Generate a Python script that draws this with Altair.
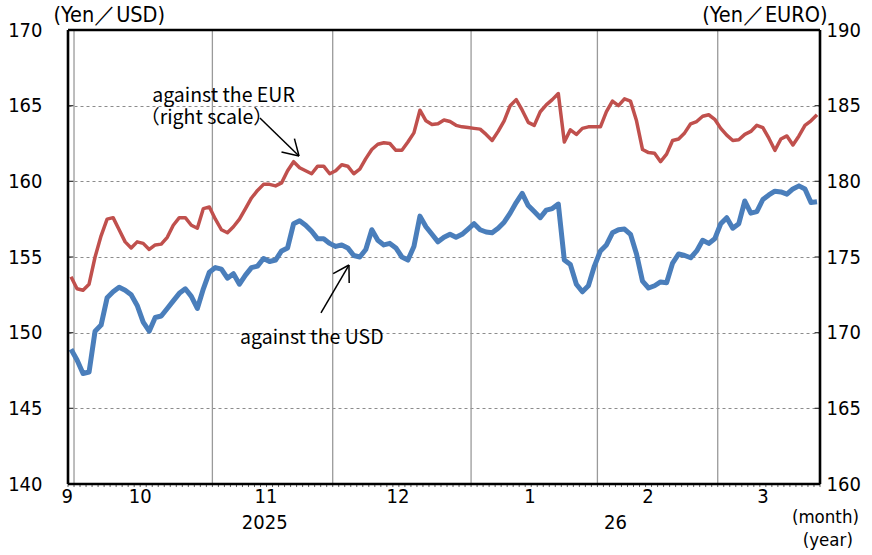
import math
import altair as alt
import pandas as pd

# Business-day series, 30 Sep 2025 to mid-March 2026
month_labels = ["9", "10", "11", "12", "1", "2", "3"]
month_days = [1, 23, 20, 23, 21, 20, 17]
month_pos = [-0.15, 12.0, 32.9, 54.85, 76.8, 96.4, 115.5]
year_labels = ["2025", "26"]
year_pos = [32.7, 91.0]

# Yen per US dollar (left scale)
usd = [
    148.9, 148.2, 147.3, 147.4, 150.1, 150.5, 152.3, 152.7, 153.0, 152.8,
    152.5, 151.8, 150.7, 150.1, 151.0, 151.1, 151.6, 152.1, 152.6, 152.9,
    152.4, 151.6, 152.9, 154.0, 154.3, 154.2, 153.6, 153.9, 153.2, 153.8,
    154.3, 154.4, 154.9, 154.7, 154.8, 155.4, 155.6, 157.2, 157.4, 157.1,
    156.7, 156.2, 156.2, 155.9, 155.7, 155.8, 155.6, 155.1, 155.0, 155.5,
    156.8, 156.1, 155.8, 155.9, 155.6, 155.0, 154.8, 155.7, 157.7, 157.0,
    156.5, 156.0, 156.3, 156.5, 156.3, 156.5, 156.85, 157.2, 156.8, 156.65,
    156.6, 156.9, 157.3, 157.9, 158.6, 159.2, 158.4, 158.0, 157.6, 158.1,
    158.2, 158.5, 154.8, 154.5, 153.2, 152.7, 153.1, 154.4, 155.4, 155.8,
    156.6, 156.8, 156.85, 156.5, 155.2, 153.4, 152.95, 153.1, 153.35, 153.3,
    154.6, 155.2, 155.1, 154.95, 155.4, 156.1, 155.9, 156.2, 157.2, 157.6,
    156.9, 157.2, 158.7, 157.9, 158.0, 158.8, 159.1, 159.35, 159.3, 159.15,
    159.5, 159.7, 159.5, 158.6, 158.65,
]

# Yen per euro (right scale)
eur = [
    173.7, 172.9, 172.8, 173.2, 175.0, 176.4, 177.5, 177.6, 176.8, 176.0,
    175.6, 176.0, 175.9, 175.5, 175.8, 175.85, 176.3, 177.1, 177.6, 177.6,
    177.1, 176.9, 178.2, 178.3, 177.5, 176.8, 176.6, 177.0, 177.5, 178.2,
    178.9, 179.4, 179.8, 179.8, 179.7, 179.9, 180.7, 181.3, 180.9, 180.7,
    180.5, 181.0, 181.0, 180.5, 180.7, 181.1, 181.0, 180.5, 180.8, 181.5,
    182.1, 182.45, 182.55, 182.5, 182.05, 182.05, 182.6, 183.2, 184.7, 184.0,
    183.75, 183.8, 184.05, 183.95, 183.7, 183.6, 183.55, 183.5, 183.45, 183.1,
    182.7, 183.3, 184.0, 185.0, 185.4, 184.7, 183.9, 183.7, 184.6, 185.05,
    185.4, 185.8, 182.6, 183.4, 183.1, 183.5, 183.6, 183.6, 183.6, 184.6,
    185.3, 185.0, 185.45, 185.3, 184.0, 182.1, 181.9, 181.85, 181.3, 181.8,
    182.7, 182.8, 183.2, 183.8, 183.95, 184.3, 184.4, 184.1, 183.5, 183.05,
    182.7, 182.75, 183.1, 183.3, 183.7, 183.55, 182.85, 182.05, 182.8, 183.0,
    182.4, 183.0, 183.7, 184.0, 184.4,
]

n = len(usd)
W, H = 752, 454
X_DOM = [0, n]
USD_DOM = [140, 170]
EUR_DOM = [160, 190]
PX_X = W / n
PX_Y = H / (USD_DOM[1] - USD_DOM[0])

FONT = "Liberation Sans Narrow, DejaVu Sans Condensed, sans-serif"
ANN_FONT = "Noto Sans CJK JP, Noto Sans, sans-serif"
BLUE = "#4a7ebb"
RED = "#c0504d"

df = pd.DataFrame({"pos": [i + 0.5 for i in range(n)], "usd": usd, "eur": eur})

# month boundaries (in day-index units)
bounds = []
acc = 0
for d in month_days:
    acc += d
    bounds.append(acc)

xs = alt.Scale(domain=X_DOM, nice=False, zero=False)
ys_usd = alt.Scale(domain=USD_DOM, nice=False, zero=False)
ys_eur = alt.Scale(domain=EUR_DOM, nice=False, zero=False)


def X(field):
    return alt.X(field, type="quantitative", scale=xs, axis=None)


def Y(field):
    return alt.Y(field, type="quantitative", scale=ys_usd, axis=None)


# vertical separators between months
sep_df = pd.DataFrame({"b": bounds[:-1]})
separators = alt.Chart(sep_df).mark_rule(color="#9a9a9a", strokeWidth=1.3).encode(x=X("b"))

usd_axis = alt.Axis(
    values=list(range(140, 171, 5)), grid=True, gridDash=[3, 3], gridColor="#8c8c8c",
    gridWidth=1, domain=False, ticks=False, tickSize=0, labelPadding=26,
    labelFont=FONT, labelFontSize=20, labelColor="black",
    title="(Yen／USD)", titleAngle=0, titleAlign="left", titleBaseline="middle",
    titleX=-15, titleY=-15, titleFont=FONT, titleFontSize=21.5, titleFontWeight="normal",
    titleColor="black",
)
eur_axis = alt.Axis(
    orient="right", values=list(range(160, 191, 5)), grid=False, domain=False,
    ticks=False, tickSize=0, labelPadding=6, labelFont=FONT, labelFontSize=20,
    labelColor="black", title="(Yen／EURO)", titleAngle=0, titleAlign="right",
    titleBaseline="middle", titleX=7, titleY=-15, titleFont=FONT, titleFontSize=21.5,
    titleFontWeight="normal", titleColor="black",
)

eur_line = alt.Chart(df).mark_line(color=RED, strokeWidth=3.5, strokeJoin="round").encode(
    x=X("pos"),
    y=alt.Y("eur", type="quantitative", scale=ys_eur, axis=eur_axis),
)
usd_line = alt.Chart(df).mark_line(color=BLUE, strokeWidth=5, strokeJoin="round").encode(
    x=X("pos"),
    y=alt.Y("usd", type="quantitative", scale=ys_usd, axis=usd_axis),
)

# small ticks along the bottom edge, one per business day
tick_df = pd.DataFrame({"t": list(range(n + 1)), "y": 140.0, "y2": 139.8})
day_ticks = alt.Chart(tick_df).mark_rule(color="#333", strokeWidth=0.8).encode(
    x=X("t"), y=Y("y"), y2="y2"
)

# short inward ticks on both value axes
levels = list(range(145, 170, 5))
side_df = pd.DataFrame({
    "x": [0.0] * len(levels) + [n - 0.9] * len(levels),
    "x2": [0.9] * len(levels) + [float(n)] * len(levels),
    "y": levels + levels,
})
side_ticks = alt.Chart(side_df).mark_rule(color="#444", strokeWidth=1.3).encode(
    x=X("x"), x2="x2", y=Y("y")
)


# annotation arrows (shaft plus an open head)
def arrow(x0, y0, x1, y1, head=18, spread=31):
    dx = (x1 - x0) * PX_X
    dy = -(y1 - y0) * PX_Y
    ang = math.atan2(dy, dx)
    rows = [dict(x=x0, y=y0, x2=x1, y2=y1)]
    for s in (-1, 1):
        a = ang + math.pi + s * math.radians(spread)
        rows.append(dict(x=x1, y=y1, x2=x1 + head * math.cos(a) / PX_X,
                         y2=y1 - head * math.sin(a) / PX_Y))
    return rows


arrow_df = pd.DataFrame(arrow(31.9, 164.19, 38.4, 161.67) + arrow(42.05, 151.3, 46.7, 154.47))
arrows = alt.Chart(arrow_df).mark_rule(color="black", strokeWidth=1.5).encode(
    x=X("x"), y=Y("y"), x2="x2", y2="y2"
)

ann_df = pd.DataFrame({
    "x": [14.0, 12.0, 28.6],
    "y": [165.64, 164.18, 149.65],
    "t": ["against the EUR", "（right scale）", "against the USD"],
})
ann_text = alt.Chart(ann_df).mark_text(
    align="left", baseline="middle", font=ANN_FONT, fontSize=19.5, color="black"
).encode(x=X("x"), y=Y("y"), text="t")

# month labels under the frame
month_df = pd.DataFrame({"x": month_pos, "t": month_labels})
month_text = alt.Chart(month_df).mark_text(
    align="center", baseline="middle", font=FONT, fontSize=20, color="black"
).encode(x=X("x"), y=alt.value(H + 13), text="t")

year_df = pd.DataFrame({"x": year_pos, "t": year_labels})
year_text = alt.Chart(year_df).mark_text(
    align="center", baseline="middle", font=FONT, fontSize=20, color="black"
).encode(x=X("x"), y=alt.value(H + 39), text="t")

unit_df = pd.DataFrame({"x": [n + 0.9, n + 1.3], "t": ["(month)", "(year)"], "yy": [H + 33, H + 56]})
unit_text = alt.Chart(unit_df).mark_text(
    align="center", baseline="middle", font=FONT, fontSize=18.5, color="black"
).encode(x=X("x"), y=alt.Y("yy", type="quantitative", scale=None), text="t")

# plot frame
frame_df = pd.DataFrame({
    "x": [0, 0, 0, n], "x2": [n, n, 0, n],
    "y": [170, 140, 140, 140], "y2": [170, 140, 170, 170],
})
frame = alt.Chart(frame_df).mark_rule(color="black", strokeWidth=2.6).encode(
    x=X("x"), x2="x2", y=Y("y"), y2="y2"
)

chart = alt.layer(
    separators, eur_line, usd_line, day_ticks, side_ticks, arrows, ann_text,
    month_text, year_text, unit_text, frame
).resolve_scale(y="independent").properties(
    width=W, height=H,
    padding={"left": 68, "top": 30, "right": 52, "bottom": 71},
    autosize=alt.AutoSizeParams(type="none"),
    background="white",
).configure_view(stroke=None)

chart.save("out.html", embed_options={"renderer": "svg", "actions": False})
